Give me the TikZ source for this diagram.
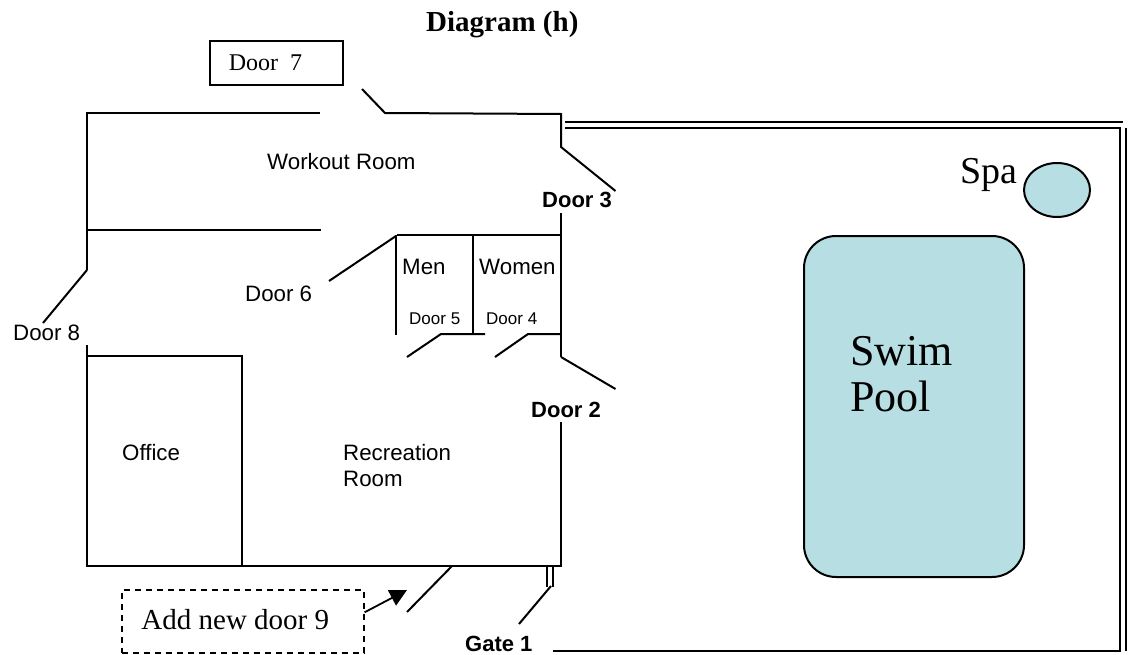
\documentclass[tikz,border=0pt]{standalone}
\usepackage{fontspec}
\setmainfont{Liberation Serif}
\setsansfont{Liberation Sans}
\usetikzlibrary{arrows.meta}
\definecolor{poolblue}{HTML}{B7DEE3}
\tikzset{
  wall/.style={line width=1.8pt,black},
  heavywall/.style={line width=2.4pt,black},
  leaf/.style={line width=2pt,black},
  fence/.style={line width=2.6pt,black},
  fencethin/.style={line width=2.2pt,black},
  water/.style={draw=black,line width=2pt,fill=poolblue},
  lab/.style={anchor=base west,inner sep=0pt,font=\sffamily\fontsize{22.3}{24}\selectfont},
  labbold/.style={anchor=base west,inner sep=0pt,font=\sffamily\bfseries\fontsize{22}{24}\selectfont},
  labsmall/.style={anchor=base west,inner sep=0pt,font=\sffamily\fontsize{17}{19}\selectfont},
  serif/.style={anchor=base west,inner sep=0pt,font=\rmfamily\fontsize{#1}{#1}\selectfont},
  callout/.style={anchor=north west,inner ysep=0pt,line width=1.6pt,draw=black,align=left}
}
\begin{document}
\begin{tikzpicture}[x=1pt,y=-1pt]
\useasboundingbox (0,0) rectangle (1131,655);
% title and callouts
\node[serif=29,font=\rmfamily\bfseries\fontsize{29}{29}\selectfont] (title) at (426,32) {Diagram (h)};
\node[callout,minimum width=133pt,minimum height=44pt,inner xsep=0pt,font=\rmfamily\fontsize{24}{24}\selectfont] (door7) at (209,40) {\hspace{19pt}\raisebox{-3pt}{Door\ \ 7}\hspace{41pt}};
\node[callout,dashed,dash pattern=on 6pt off 5pt,minimum width=242pt,minimum height=63pt,inner xsep=0pt,font=\rmfamily\fontsize{29}{29}\selectfont] (door9) at (121,589) {\hspace{19pt}\raisebox{4pt}{Add new door 9}\hspace{34pt}};
\coordinate (door9tip) at (407,590);
\draw[line width=1.8pt,-{Triangle[length=17pt,width=17pt]}] ([yshift=9pt]door9.east) -- (door9tip);
% building walls
\draw[wall] (320,113) -- (87,113) -- (87,270);
\draw[wall] (87,230) -- (321,230);
\draw[leaf] (87,270) -- (43,323);
\draw[wall] (87,345) -- (87,566) -- (561,566) -- (561,422);
\draw[heavywall] (87,356) -- (242,356) -- (242,566);
\draw[leaf] (362,89) -- (385,113) -- (561,114) -- (561,147) -- (615.5,191);
\draw[wall] (561,213) -- (561,357);
\draw[leaf] (561,357) -- (615.5,389);
\draw[heavywall] (397,235) -- (561,235);
\draw[wall] (396,235) -- (396,335);
\draw[wall] (473,235) -- (473,334);
\draw[leaf] (329,281) -- (396,236);
\draw[leaf] (407,357) -- (441,334) -- (485,334);
\draw[leaf] (495,357) -- (528,334) -- (561,334);
\draw[leaf] (452,566) -- (407,612);
% gate
\draw[wall] (547,566) -- (547,587);
\draw[wall] (553,566) -- (553,587);
\draw[leaf] (551,586) -- (519,624);
% fence
\draw[fencethin] (565,122) -- (1123,122);
\draw[fence] (565,128) -- (1120,128) -- (1120,651) -- (553,651);
\draw[fencethin] (1126,128) -- (1126,651);
% water
\draw[water,rounded corners=32pt] (804,236) rectangle (1024,577);
\draw[water] (1057,190) ellipse [x radius=33,y radius=27];
% labels
\node[lab] (workout) at (267,169) {Workout Room};
\node[labbold] (d3) at (542,207) {Door 3};
\node[lab] (men) at (402,274) {Men};
\node[lab] (women) at (479,274) {Women};
\node[lab] (d6) at (245,301) {Door 6};
\node[labsmall] (d5) at (409,324) {Door 5};
\node[labsmall] (d4) at (486,324) {Door 4};
\node[lab] (d8) at (13,340) {Door 8};
\node[labbold] (d2) at (531,417) {Door 2};
\node[lab] (office) at (122,460) {Office};
\node[lab] (rec) at (343,460) {Recreation};
\node[lab] (room) at (343,486) {Room};
\node[labbold] (gate) at (465,651) {Gate 1};
\node[serif=38] (spa) at (960,183) {Spa};
\node[serif=44] (swim) at (850,365) {Swim};
\node[serif=44] (poolt) at (850,411) {Pool};
\end{tikzpicture}
\end{document}
